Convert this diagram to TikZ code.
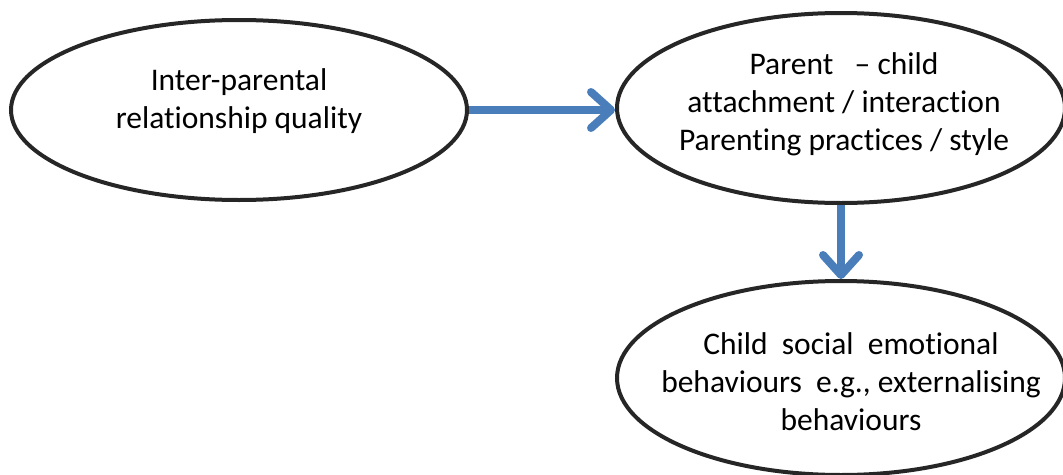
\documentclass[tikz,border=0pt]{standalone}
\usepackage{fontspec}
\setmainfont[Ligatures=NoCommon]{Carlito}
\usetikzlibrary{shapes.geometric,arrows.meta}
\definecolor{arrowblue}{HTML}{4A7EBB}

\begin{document}
\begin{tikzpicture}[
  x=1pt, y=-1pt,
  font=\fontsize{31.5}{38}\selectfont,
  oval/.style={ellipse, draw=black!85, line width=4pt, inner sep=0pt},
  lbl/.style={align=center, inner sep=0pt},
  link/.style={line width=8pt, draw=arrowblue,
    -{Straight Barb[length=20pt, width=36pt, round]}}
]
\useasboundingbox (0,0) rectangle (1063,474);

% ovals
\node[oval, minimum width=456pt, minimum height=180pt] (ipr) at (239,110) {};
\node[oval, minimum width=448pt, minimum height=190pt] (pc) at (841,108) {};
\node[oval, minimum width=448pt, minimum height=194pt] (cse) at (841,378) {};

% texts
\node[lbl] (ipr-t) at (239,101) {Inter-parental\\relationship quality};
\node[lbl] (pc-t) at (844,104) {Parent\ \ \ -- child\\attachment / interaction\\Parenting practices / style};
\node[lbl] (cse-t) at (851,382) {Child\ \ social\ \ emotional\\behaviours\ \ e.g., externalising\\behaviours};

% arrows
\draw[link] (ipr.east) -- (ipr.east -| pc.west);
\draw[link] (pc.south) -- (cse.north);

\end{tikzpicture}
\end{document}
